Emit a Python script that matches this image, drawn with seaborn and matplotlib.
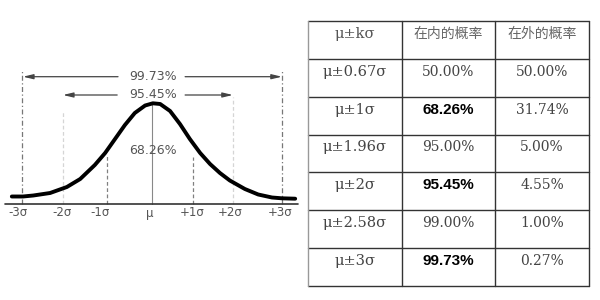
import matplotlib
matplotlib.use("Agg")
import matplotlib.pyplot as plt
import seaborn as sns

# ---- data ----
curve_sigma = [-3.26, -3.00, -2.76, -2.37, -1.98, -1.67, -1.33, -1.09, -0.86, -0.63,
               -0.40, -0.16, 0.02, 0.19, 0.42, 0.65, 0.88, 1.12, 1.35, 1.58,
               1.81, 2.16, 2.47, 2.79, 3.02, 3.33]
curve_height = [7.5, 7.5, 8.5, 11.0, 17.0, 25.0, 39.0, 51.0, 65.0, 79.0,
                91.0, 98.5, 100.7, 100.0, 93.0, 80.0, 65.0, 51.0, 40.0, 31.0,
                23.5, 15.0, 9.5, 6.5, 5.7, 5.3]

tick_labels = ["-3σ", "-2σ", "-1σ", "μ", "+1σ", "+2σ", "+3σ"]
tick_sigma = [-3.12, -2.09, -1.21, -0.05, 0.93, 1.81, 2.98]
guide_sigma = [-3.02, -2.07, -1.05, 0.95, 1.88, 3.02]
guide_top = [134, 92, 49, 47, 107, 134]

band_labels = ["99.73%", "95.45%", "68.26%"]

row_labels = ["μ±0.67σ", "μ±1σ", "μ±1.96σ", "μ±2σ", "μ±2.58σ", "μ±3σ"]
inside_prob = ["50.00%", "68.26%", "95.00%", "95.45%", "99.00%", "99.73%"]
outside_prob = ["50.00%", "31.74%", "5.00%", "4.55%", "1.00%", "0.27%"]
bold_rows = [1, 3, 5]
header = ["μ±kσ", "在内的概率", "在外的概率"]

sns.set_theme(style="white")
plt.rcParams["font.family"] = ["DejaVu Sans", "Noto Sans CJK SC"]

fig = plt.figure(figsize=(6, 3), dpi=100)
fig.patch.set_facecolor("white")

# ---- left: normal curve ----
axL = fig.add_axes([0, 0, 0.5, 1])
axL.set_xlim(-152 / 43, 148 / 43)
axL.set_ylim(-96, 204)
axL.axis("off")

narrow = ["DejaVu Sans"]
gray_txt = "#555555"

# guide lines
for gx, gt in zip(guide_sigma, guide_top):
    if abs(gx) > 2.5:
        axL.plot([gx, gx], [0, gt], color="#777777", lw=0.9, ls=(0, (4, 2, 1, 2)), zorder=1)
    elif abs(gx) > 1.5:
        axL.plot([gx, gx], [0, gt], color="#d5d5d5", lw=0.9, ls=(0, (3, 2)), zorder=1)
    else:
        axL.plot([gx, gx], [0, gt], color="#808080", lw=0.9, ls=(0, (3, 2)), zorder=1)

# centre line
axL.plot([0, 0], [0, max(curve_height)], color="#888888", lw=0.8, zorder=1)

sns.lineplot(x=curve_sigma, y=curve_height, ax=axL, color="black", lw=2.8,
             sort=False, estimator=None, zorder=3)
axL.lines[-1].set_solid_joinstyle("round")
axL.lines[-1].set_solid_capstyle("round")

# baseline
axL.plot([-3.42, 3.40], [0, 0], color="#333333", lw=1.2, zorder=2)

for lab, tx in zip(tick_labels, tick_sigma):
    axL.text(tx, -9, lab, ha="center", va="center", fontsize=8.5,
             color=gray_txt, family=narrow)

# band labels and arrows
axL.text(0.02, 128, band_labels[0], ha="center", va="center", fontsize=9,
         color=gray_txt, family=narrow)
axL.text(0.02, 109.5, band_labels[1], ha="center", va="center", fontsize=9,
         color=gray_txt, family=narrow)
axL.text(0.02, 54, band_labels[2], ha="center", va="center", fontsize=9,
         color=gray_txt, family=narrow)

arrow_kw = dict(arrowstyle="-|>,head_length=0.5,head_width=0.12", color="#444444", lw=0.9,
                shrinkA=0, shrinkB=0)
axL.annotate("", xy=(-3.0, 127.3), xytext=(-0.79, 127.3), arrowprops=arrow_kw)
axL.annotate("", xy=(3.02, 127.3), xytext=(0.77, 127.3), arrowprops=arrow_kw)
axL.annotate("", xy=(-2.07, 109), xytext=(-0.81, 109), arrowprops=arrow_kw)
axL.annotate("", xy=(1.88, 109), xytext=(0.77, 109), arrowprops=arrow_kw)

# ---- right: table ----
axT = fig.add_axes([308 / 600, 14 / 300, 281 / 600, 265 / 300])
axT.set_xlim(0, 3)
axT.set_ylim(7, 0)
axT.axis("off")

nrows = len(row_labels) + 1
for r in range(nrows + 1):
    axT.plot([0, 3], [r, r], color="#333333", lw=1.0, clip_on=False)
for c in range(4):
    axT.plot([c, c], [0, nrows], color="#999999" if c == 0 else "#333333",
             lw=1.0, clip_on=False)

serif = ["DejaVu Serif"]
num_font = ["DejaVu Serif"]
cjk = ["Noto Sans CJK SC", "DejaVu Sans"]
dy = 0.34

axT.text(0.5, dy, header[0], ha="center", va="center", fontsize=10.5,
         color="#555555", family=serif)
axT.text(1.5, dy, header[1], ha="center", va="center", fontsize=10,
         color="#666666", family=cjk, fontweight="light")
axT.text(2.5, dy, header[2], ha="center", va="center", fontsize=10,
         color="#666666", family=cjk, fontweight="light")

for i, (rl, ip, op) in enumerate(zip(row_labels, inside_prob, outside_prob)):
    y = i + 1 + dy
    axT.text(0.5, y, rl, ha="center", va="center", fontsize=10.5,
             color="#444444", family=serif)
    if i in bold_rows:
        axT.text(1.5, y, ip, ha="center", va="center", fontsize=11,
                 color="black", family=["Liberation Sans", "DejaVu Sans"],
                 fontweight="bold")
    else:
        axT.text(1.5, y, ip, ha="center", va="center", fontsize=10,
                 color="#444444", family=num_font)
    axT.text(2.5, y, op, ha="center", va="center", fontsize=10,
             color="#444444", family=num_font)

fig.savefig("out.png", dpi=100, facecolor="white")
